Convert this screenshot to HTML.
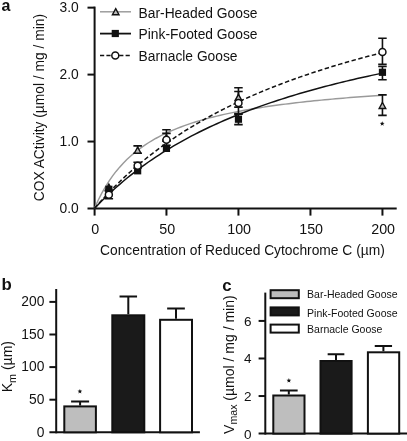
<!DOCTYPE html>
<html><head><meta charset="utf-8"><style>
html,body{margin:0;padding:0;background:#fff;width:407px;height:441px;overflow:hidden}
svg{display:block;filter:grayscale(1)}
</style></head><body>
<svg width="407" height="441" viewBox="0 0 407 441" font-family='"Liberation Sans", sans-serif'><rect width="407" height="441" fill="#fff"/><text x="1.5" y="11" font-size="16" font-weight="bold" fill="#111">a</text><g stroke="#111" stroke-width="2" fill="none" stroke-linecap="butt"><path d="M94.6,6.6 V215.6"/><path d="M87.5,208.5 H396.7"/><path d="M87.5,7.65 H94.6"/><path d="M87.5,74.60 H94.6"/><path d="M87.5,141.55 H94.6"/><path d="M166.45,208.5 V215.6"/><path d="M238.45,208.5 V215.6"/><path d="M310.45,208.5 V215.6"/><path d="M382.45,208.5 V215.6"/></g><text x="78.7" y="11.95" font-size="13.8" text-anchor="end" fill="#111">3.0</text><text x="78.7" y="78.90" font-size="13.8" text-anchor="end" fill="#111">2.0</text><text x="78.7" y="145.85" font-size="13.8" text-anchor="end" fill="#111">1.0</text><text x="78.7" y="212.80" font-size="13.8" text-anchor="end" fill="#111">0.0</text><text x="95.15" y="234.2" font-size="14.3" text-anchor="middle" fill="#111">0</text><text x="167.15" y="234.2" font-size="14.3" text-anchor="middle" fill="#111">50</text><text x="239.15" y="234.2" font-size="14.3" text-anchor="middle" fill="#111">100</text><text x="311.15" y="234.2" font-size="14.3" text-anchor="middle" fill="#111">150</text><text x="383.15" y="234.2" font-size="14.3" text-anchor="middle" fill="#111">200</text><text x="100" y="254.5" font-size="13.8" fill="#111">Concentration of Reduced Cytochrome C (µm)</text><text transform="translate(44.4,201.3) rotate(-90)" font-size="13.8" fill="#111">COX ACtivity (µmol / mg / min)</text><path d="M94.45,208.50 L98.05,200.51 L101.65,193.40 L105.25,187.04 L108.85,181.32 L112.45,176.14 L116.05,171.43 L119.65,167.14 L123.25,163.20 L126.85,159.57 L130.45,156.23 L134.05,153.13 L137.65,150.25 L141.25,147.58 L144.85,145.08 L148.45,142.74 L152.05,140.55 L155.65,138.49 L159.25,136.55 L162.85,134.72 L166.45,133.00 L170.05,131.36 L173.65,129.82 L177.25,128.35 L180.85,126.95 L184.45,125.63 L188.05,124.37 L191.65,123.16 L195.25,122.01 L198.85,120.91 L202.45,119.86 L206.05,118.86 L209.65,117.89 L213.25,116.97 L216.85,116.08 L220.45,115.23 L224.05,114.41 L227.65,113.62 L231.25,112.86 L234.85,112.13 L238.45,111.42 L242.05,110.74 L245.65,110.08 L249.25,109.45 L252.85,108.83 L256.45,108.24 L260.05,107.66 L263.65,107.11 L267.25,106.57 L270.85,106.05 L274.45,105.54 L278.05,105.05 L281.65,104.57 L285.25,104.11 L288.85,103.66 L292.45,103.22 L296.05,102.79 L299.65,102.38 L303.25,101.98 L306.85,101.59 L310.45,101.20 L314.05,100.83 L317.65,100.47 L321.25,100.12 L324.85,99.77 L328.45,99.44 L332.05,99.11 L335.65,98.79 L339.25,98.48 L342.85,98.17 L346.45,97.88 L350.05,97.59 L353.65,97.30 L357.25,97.02 L360.85,96.75 L364.45,96.49 L368.05,96.23 L371.65,95.97 L375.25,95.72 L378.85,95.48 L382.45,95.24" stroke="#9a9a9a" stroke-width="1.45" fill="none"/><path d="M94.45,208.50 L98.05,204.72 L101.65,201.07 L105.25,197.52 L108.85,194.07 L112.45,190.73 L116.05,187.49 L119.65,184.33 L123.25,181.27 L126.85,178.29 L130.45,175.39 L134.05,172.57 L137.65,169.83 L141.25,167.15 L144.85,164.55 L148.45,162.01 L152.05,159.54 L155.65,157.13 L159.25,154.78 L162.85,152.48 L166.45,150.24 L170.05,148.05 L173.65,145.92 L177.25,143.83 L180.85,141.80 L184.45,139.80 L188.05,137.86 L191.65,135.95 L195.25,134.09 L198.85,132.27 L202.45,130.49 L206.05,128.74 L209.65,127.03 L213.25,125.36 L216.85,123.72 L220.45,122.12 L224.05,120.55 L227.65,119.01 L231.25,117.50 L234.85,116.01 L238.45,114.56 L242.05,113.14 L245.65,111.74 L249.25,110.37 L252.85,109.02 L256.45,107.70 L260.05,106.41 L263.65,105.13 L267.25,103.88 L270.85,102.66 L274.45,101.45 L278.05,100.27 L281.65,99.10 L285.25,97.96 L288.85,96.83 L292.45,95.73 L296.05,94.64 L299.65,93.57 L303.25,92.52 L306.85,91.49 L310.45,90.47 L314.05,89.47 L317.65,88.48 L321.25,87.51 L324.85,86.56 L328.45,85.62 L332.05,84.69 L335.65,83.78 L339.25,82.89 L342.85,82.00 L346.45,81.13 L350.05,80.28 L353.65,79.43 L357.25,78.60 L360.85,77.78 L364.45,76.97 L368.05,76.18 L371.65,75.39 L375.25,74.62 L378.85,73.86 L382.45,73.10" stroke="#111" stroke-width="1.5" fill="none"/><path d="M94.45,208.50 L98.05,204.35 L101.65,200.31 L105.25,196.39 L108.85,192.57 L112.45,188.86 L116.05,185.25 L119.65,181.73 L123.25,178.30 L126.85,174.96 L130.45,171.71 L134.05,168.54 L137.65,165.45 L141.25,162.43 L144.85,159.48 L148.45,156.61 L152.05,153.80 L155.65,151.06 L159.25,148.38 L162.85,145.77 L166.45,143.21 L170.05,140.71 L173.65,138.26 L177.25,135.87 L180.85,133.53 L184.45,131.24 L188.05,128.99 L191.65,126.80 L195.25,124.65 L198.85,122.54 L202.45,120.48 L206.05,118.45 L209.65,116.47 L213.25,114.53 L216.85,112.62 L220.45,110.75 L224.05,108.92 L227.65,107.12 L231.25,105.35 L234.85,103.62 L238.45,101.92 L242.05,100.25 L245.65,98.61 L249.25,97.00 L252.85,95.42 L256.45,93.87 L260.05,92.34 L263.65,90.84 L267.25,89.37 L270.85,87.92 L274.45,86.49 L278.05,85.09 L281.65,83.71 L285.25,82.36 L288.85,81.02 L292.45,79.71 L296.05,78.42 L299.65,77.15 L303.25,75.90 L306.85,74.67 L310.45,73.46 L314.05,72.26 L317.65,71.09 L321.25,69.93 L324.85,68.79 L328.45,67.67 L332.05,66.56 L335.65,65.47 L339.25,64.40 L342.85,63.34 L346.45,62.30 L350.05,61.27 L353.65,60.26 L357.25,59.26 L360.85,58.28 L364.45,57.30 L368.05,56.35 L371.65,55.40 L375.25,54.47 L378.85,53.55 L382.45,52.64" stroke="#111" stroke-width="1.5" fill="none" stroke-dasharray="4.5,2.5"/><path d="M137.65,145.90 V153.20 M133.40,145.90 H141.90 M133.40,153.20 H141.90" stroke="#111" stroke-width="1.6" fill="none"/><path d="M166.45,129.70 V140.00 M162.20,129.70 H170.70 M162.20,140.00 H170.70" stroke="#111" stroke-width="1.6" fill="none"/><path d="M238.45,87.80 V107.10 M234.20,87.80 H242.70 M234.20,107.10 H242.70" stroke="#111" stroke-width="1.6" fill="none"/><path d="M382.45,94.90 V115.40 M378.20,94.90 H386.70 M378.20,115.40 H386.70" stroke="#111" stroke-width="1.6" fill="none"/><path d="M238.45,114.20 V124.60 M234.20,114.20 H242.70 M234.20,124.60 H242.70" stroke="#111" stroke-width="1.6" fill="none"/><path d="M382.45,66.40 V79.70 M378.20,66.40 H386.70 M378.20,79.70 H386.70" stroke="#111" stroke-width="1.6" fill="none"/><path d="M238.45,91.50 V113.60 M234.20,91.50 H242.70 M234.20,113.60 H242.70" stroke="#111" stroke-width="1.6" fill="none"/><path d="M382.45,38.30 V64.30 M378.20,38.30 H386.70 M378.20,64.30 H386.70" stroke="#111" stroke-width="1.6" fill="none"/><path d="M166.45,133.40 V145.30 M162.20,133.40 H170.70 M162.20,145.30 H170.70" stroke="#111" stroke-width="1.6" fill="none"/><path d="M137.65,162.20 V168.00 M133.40,162.20 H141.90 M133.40,168.00 H141.90" stroke="#111" stroke-width="1.6" fill="none"/><path d="M108.85,191.00 V198.80 M104.60,191.00 H113.10 M104.60,198.80 H113.10" stroke="#111" stroke-width="1.6" fill="none"/><path d="M108.85,184.10 L112.15,190.10 L105.55,190.10 Z" fill="#bbb" stroke="#111" stroke-width="1.4" stroke-linejoin="miter"/><path d="M137.65,147.20 L140.95,153.20 L134.35,153.20 Z" fill="#bbb" stroke="#111" stroke-width="1.4" stroke-linejoin="miter"/><path d="M166.45,135.30 L169.75,141.30 L163.15,141.30 Z" fill="#bbb" stroke="#111" stroke-width="1.4" stroke-linejoin="miter"/><path d="M238.45,94.30 L241.75,100.30 L235.15,100.30 Z" fill="#bbb" stroke="#111" stroke-width="1.4" stroke-linejoin="miter"/><path d="M382.45,102.50 L385.75,108.50 L379.15,108.50 Z" fill="#bbb" stroke="#111" stroke-width="1.4" stroke-linejoin="miter"/><rect x="105.25" y="185.70" width="7.2" height="7.2" fill="#111"/><rect x="134.05" y="167.20" width="7.2" height="7.2" fill="#111"/><rect x="162.85" y="144.80" width="7.2" height="7.2" fill="#111"/><rect x="234.85" y="115.60" width="7.2" height="7.2" fill="#111"/><rect x="378.85" y="68.70" width="7.2" height="7.2" fill="#111"/><circle cx="108.85" cy="194.80" r="3.5" fill="#fff" stroke="#111" stroke-width="1.5"/><circle cx="137.65" cy="165.80" r="3.5" fill="#fff" stroke="#111" stroke-width="1.5"/><circle cx="166.45" cy="139.70" r="3.5" fill="#fff" stroke="#111" stroke-width="1.5"/><circle cx="238.45" cy="102.90" r="3.5" fill="#fff" stroke="#111" stroke-width="1.5"/><circle cx="382.45" cy="52.00" r="3.5" fill="#fff" stroke="#111" stroke-width="1.5"/><path d="M382.20,121.20 L382.82,122.85 L384.58,122.93 L383.20,124.02 L383.67,125.72 L382.20,124.75 L380.73,125.72 L381.20,124.02 L379.82,122.93 L381.58,122.85 Z" fill="#111"/><path d="M100,11.8 H131" stroke="#9a9a9a" stroke-width="1.45"/><path d="M115.70,8.70 L119.00,14.70 L112.40,14.70 Z" fill="#bbb" stroke="#111" stroke-width="1.4" stroke-linejoin="miter"/><path d="M100,33.6 H131" stroke="#111" stroke-width="1.8"/><rect x="111.70" y="29.90" width="7.2" height="7.2" fill="#111"/><path d="M100,55.5 H131" stroke="#111" stroke-width="1.6" stroke-dasharray="4.2,2.2"/><circle cx="115.30" cy="55.50" r="3.5" fill="#fff" stroke="#111" stroke-width="1.5"/><text x="138.6" y="17.90" font-size="13.8" fill="#111">Bar-Headed Goose</text><text x="138.6" y="39.20" font-size="13.8" fill="#111">Pink-Footed Goose</text><text x="138.6" y="60.50" font-size="13.8" fill="#111">Barnacle Goose</text><text x="1.5" y="290" font-size="16.8" font-weight="bold" fill="#111">b</text><g stroke="#111" stroke-width="2" fill="none"><path d="M56.2,289 V433.3"/><path d="M49.4,432.3 H199.9"/><path d="M49.4,301.90 H56.2"/><path d="M49.4,334.50 H56.2"/><path d="M49.4,367.10 H56.2"/><path d="M49.4,399.70 H56.2"/></g><text x="44.4" y="306.10" font-size="13.8" text-anchor="end" fill="#111">200</text><text x="44.4" y="338.70" font-size="13.8" text-anchor="end" fill="#111">150</text><text x="44.4" y="371.30" font-size="13.8" text-anchor="end" fill="#111">100</text><text x="44.4" y="403.90" font-size="13.8" text-anchor="end" fill="#111">50</text><text x="44.4" y="436.50" font-size="13.8" text-anchor="end" fill="#111">0</text><text transform="translate(12.2,392.3) rotate(-90)" font-size="14" fill="#111">K<tspan font-size="10.8" dy="3.5">m</tspan><tspan dy="-3.5"> (µm)</tspan></text><path d="M80.10,405.40 V401.40 M71.10,401.40 H89.10" stroke="#111" stroke-width="2" fill="none"/><rect x="64.30" y="406.40" width="31.60" height="25.90" fill="#bebebe" stroke="#111" stroke-width="2"/><path d="M128.30,314.30 V296.40 M119.55,296.40 H137.05" stroke="#111" stroke-width="2" fill="none"/><rect x="112.30" y="315.30" width="32.00" height="117.00" fill="#1a1a1a" stroke="#111" stroke-width="2"/><path d="M176.00,318.80 V308.60 M167.15,308.60 H184.85" stroke="#111" stroke-width="2" fill="none"/><rect x="160.10" y="319.80" width="31.90" height="112.50" fill="#fff" stroke="#111" stroke-width="2"/><path d="M79.90,388.90 L80.52,390.55 L82.28,390.63 L80.90,391.72 L81.37,393.42 L79.90,392.45 L78.43,393.42 L78.90,391.72 L77.52,390.63 L79.28,390.55 Z" fill="#111"/><text x="222.2" y="290.8" font-size="16.8" font-weight="bold" fill="#111">c</text><g stroke="#111" stroke-width="2" fill="none"><path d="M265.3,292.6 V434.6"/><path d="M258.6,433.6 H407"/><path d="M258.6,320.92 H265.3"/><path d="M258.6,358.48 H265.3"/><path d="M258.6,396.04 H265.3"/></g><text x="251.6" y="325.92" font-size="13.5" text-anchor="end" fill="#111">6</text><text x="251.6" y="363.48" font-size="13.5" text-anchor="end" fill="#111">4</text><text x="251.6" y="401.04" font-size="13.5" text-anchor="end" fill="#111">2</text><text x="251.6" y="438.60" font-size="13.5" text-anchor="end" fill="#111">0</text><text transform="translate(233.7,433.9) rotate(-90)" font-size="14" fill="#111">V<tspan font-size="10.6" dy="3.4">max</tspan><tspan dy="-3.4"> (µmol / mg / min)</tspan></text><path d="M288.80,394.60 V390.60 M279.95,390.60 H297.65" stroke="#111" stroke-width="2" fill="none"/><rect x="273.30" y="395.50" width="31.20" height="38.10" fill="#bebebe" stroke="#111" stroke-width="2"/><path d="M336.00,360.00 V354.30 M327.65,354.30 H344.35" stroke="#111" stroke-width="2" fill="none"/><rect x="320.50" y="361.00" width="31.10" height="72.60" fill="#1a1a1a" stroke="#111" stroke-width="2"/><path d="M383.40,351.30 V346.00 M374.75,346.00 H392.05" stroke="#111" stroke-width="2" fill="none"/><rect x="367.90" y="352.30" width="31.30" height="81.30" fill="#fff" stroke="#111" stroke-width="2"/><path d="M288.90,378.10 L289.52,379.75 L291.28,379.83 L289.90,380.92 L290.37,382.62 L288.90,381.65 L287.43,382.62 L287.90,380.92 L286.52,379.83 L288.28,379.75 Z" fill="#111"/><rect x="270.6" y="290.20" width="28.2" height="8.0" fill="#bbb" stroke="#111" stroke-width="2"/><text x="307.1" y="297.90" font-size="10.5" fill="#111">Bar-Headed Goose</text><rect x="270.6" y="307.40" width="28.2" height="8.0" fill="#1a1a1a" stroke="#111" stroke-width="2"/><text x="307.1" y="317.20" font-size="10.5" fill="#111">Pink-Footed Goose</text><rect x="270.6" y="324.60" width="28.2" height="8.0" fill="#fff" stroke="#111" stroke-width="2"/><text x="307.1" y="332.60" font-size="10.5" fill="#111">Barnacle Goose</text></svg>
</body></html>
